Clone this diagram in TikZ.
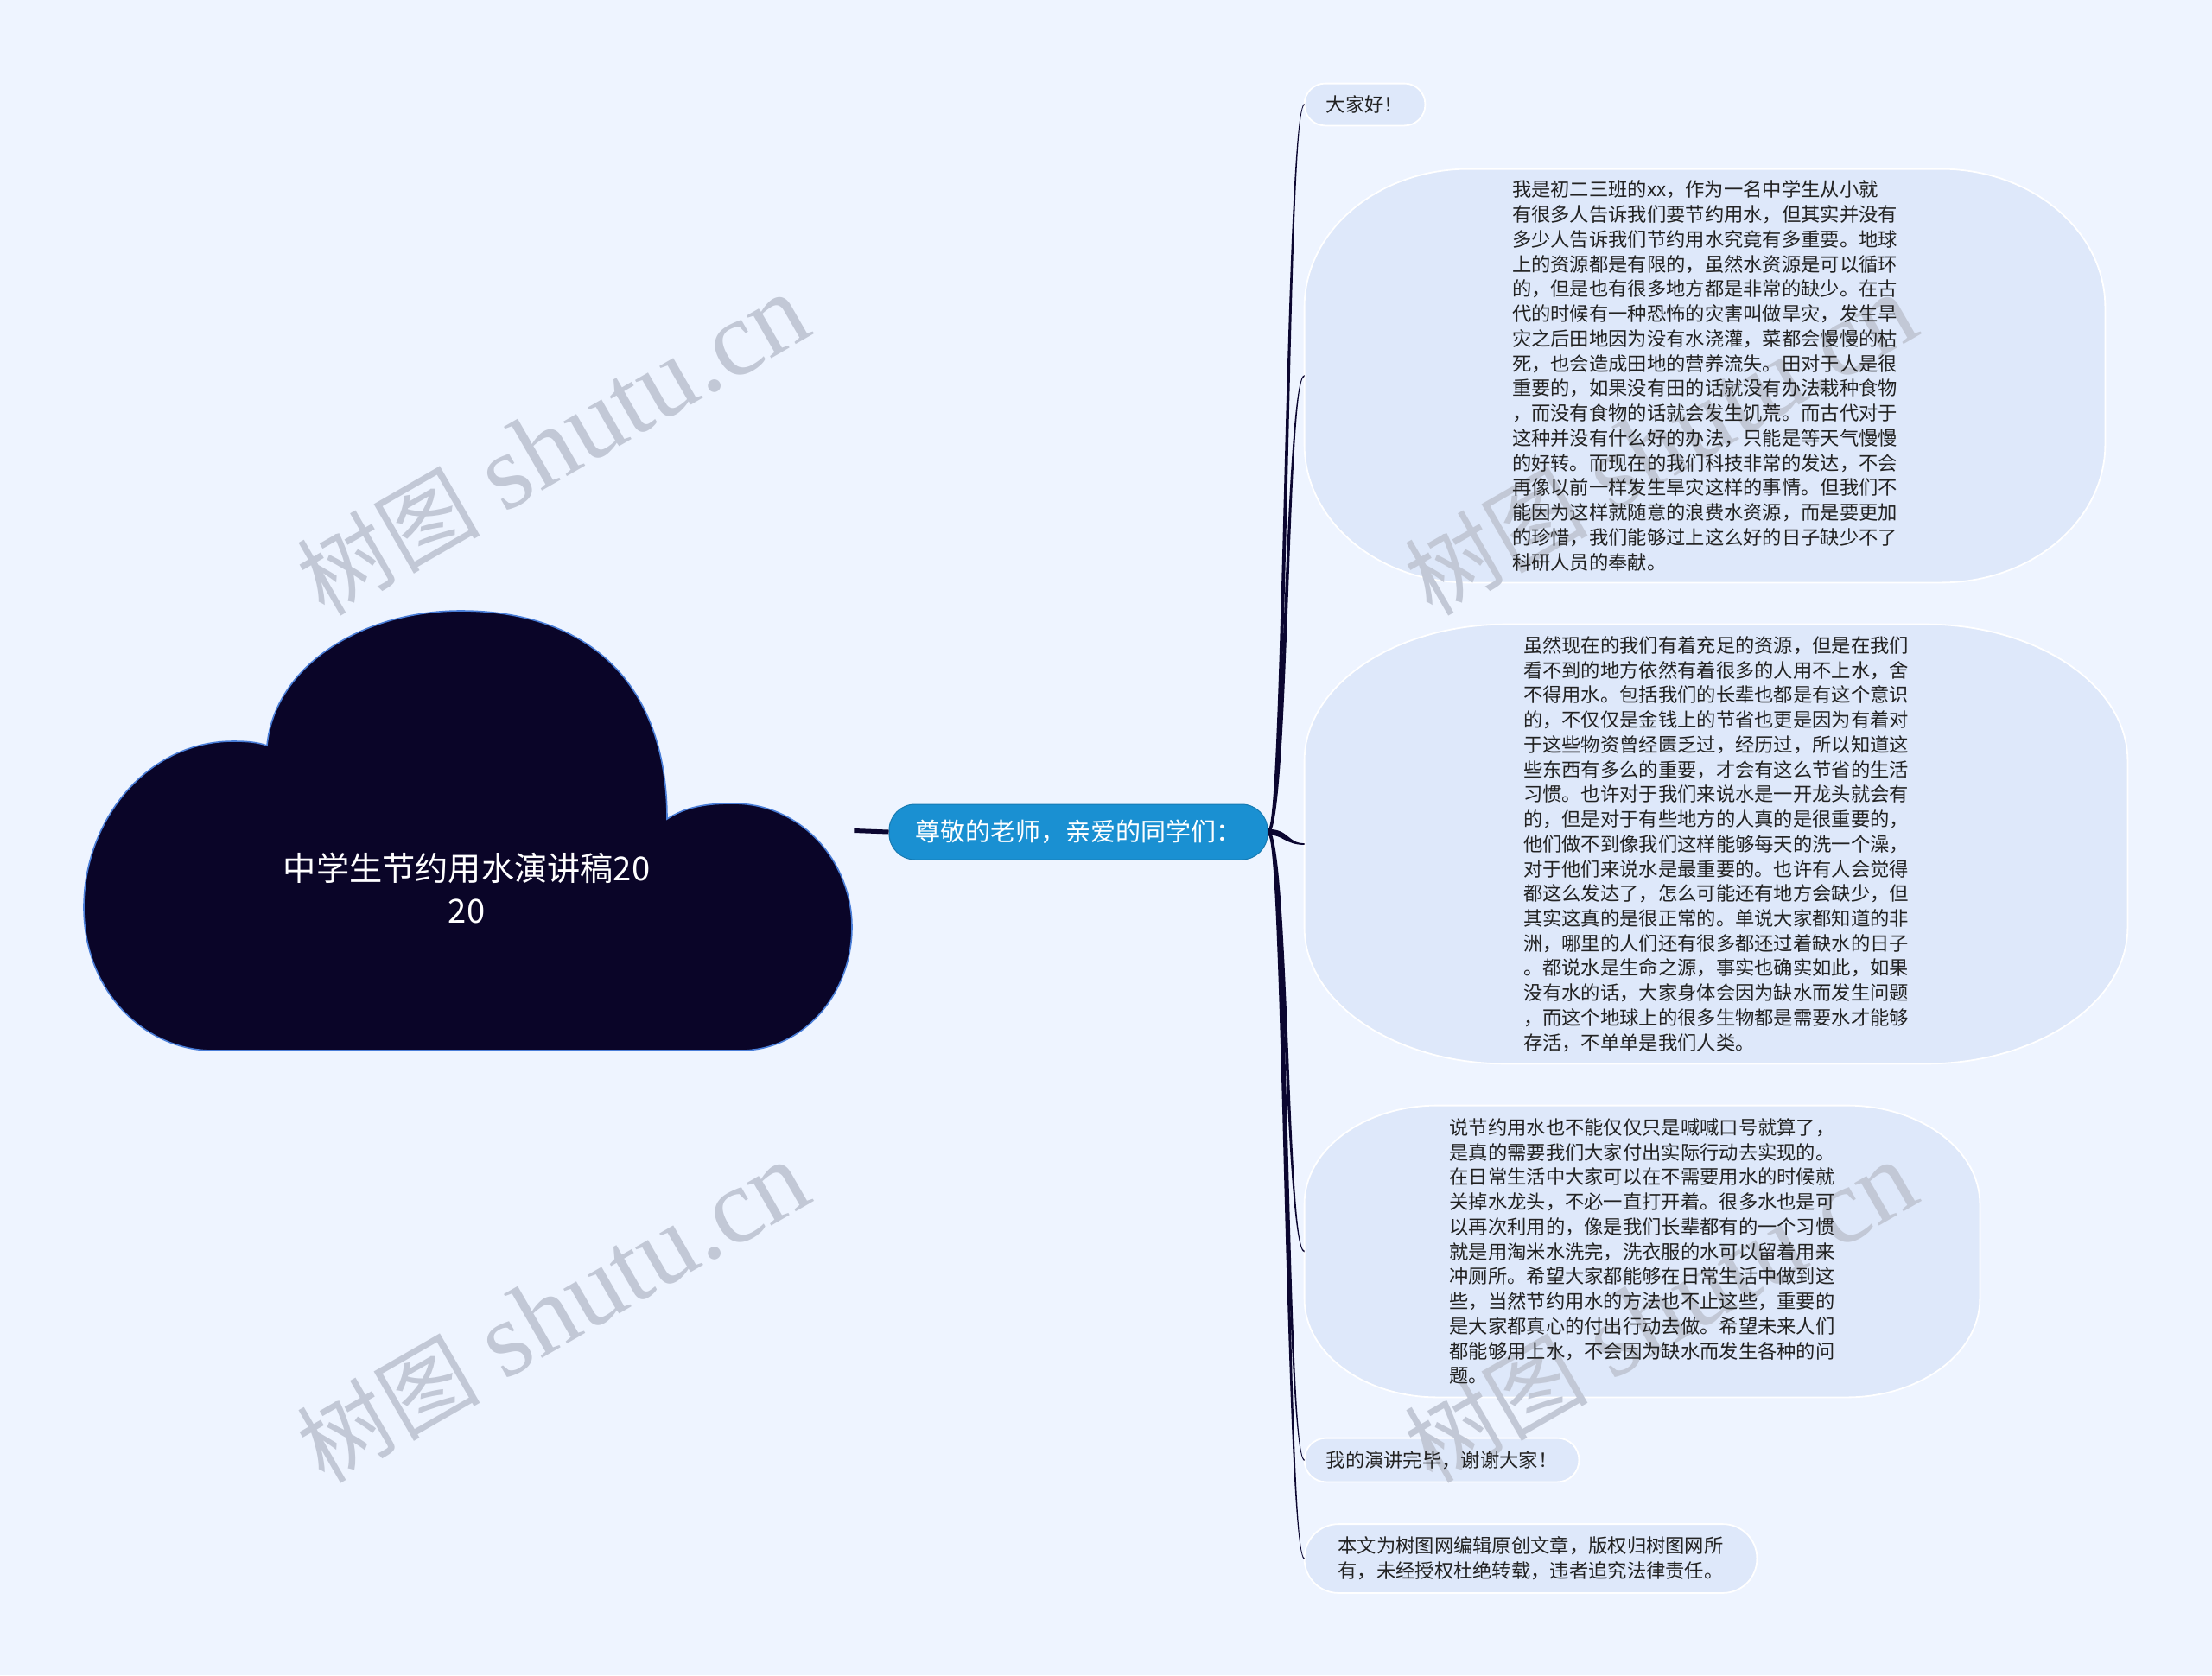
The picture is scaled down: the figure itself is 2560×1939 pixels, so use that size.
\documentclass[tikz,border=0pt]{standalone}
\usepackage{fontspec}
\setmainfont{Noto Sans CJK SC}
\newfontfamily\wmserif{Liberation Serif}
\newfontfamily\wmcjk{Noto Sans CJK SC}
\usetikzlibrary{calc,backgrounds}
\definecolor{bgc}{HTML}{EEF4FF}
\definecolor{bubfill}{HTML}{DEE8FA}
\definecolor{cloudfill}{HTML}{0A0528}
\definecolor{cloudedge}{HTML}{4A7ED8}
\definecolor{subfill}{HTML}{1A90D2}
\definecolor{linecol}{HTML}{0B0630}
\definecolor{txt}{HTML}{222222}
\definecolor{wmc}{HTML}{C2C8D6}

\tikzset{
  bubshape/.style={fill=bubfill, draw=white, line width=0.9pt},
  bubtext/.style={inner sep=0pt, align=left, text=txt,
    font=\fontsize{11.15pt}{14.37pt}\selectfont},
  subnode/.style={fill=subfill, draw=subfill!85!black, line width=0.5pt,
    rounded corners=15pt, inner sep=0pt, minimum width=219pt, minimum height=32pt,
    text=white, font=\fontsize{14.5pt}{17pt}\selectfont},
  titletext/.style={inner sep=0pt, align=center, text=white,
    font=\fontsize{19.1pt}{24.5pt}\selectfont},
  wmark/.style={inner sep=0pt, text=wmc, rotate=30},
  rootline/.style={draw=linecol, line width=2.5pt},
}

% bubble with elliptical corners drawn behind a named node
\newcommand\ebub[3]{%
  \path[bubshape] let \p1=(#1.south west), \p2=(#1.north east) in
    ({\x1+#2},\y2) -- ({\x2-#2},\y2)
    arc[start angle=90,end angle=0,x radius=#2,y radius=#3]
    -- (\x2,{\y1+#3})
    arc[start angle=0,end angle=-90,x radius=#2,y radius=#3]
    -- ({\x1+#2},\y1)
    arc[start angle=270,end angle=180,x radius=#2,y radius=#3]
    -- (\x1,{\y2-#3})
    arc[start angle=180,end angle=90,x radius=#2,y radius=#3]
    -- cycle;}

% tapered S-shaped connector: #1 from, #2 to, #3 = 1 (rising) or -1 (falling)
\newcommand\conn[3]{%
  \fill[linecol] let \p1=(#1), \p2=(#2), \p3=($(#1)!0.5!(#2)$) in
    (\x1,{\y1+1.6pt}) .. controls ({\x3-(#3)*1.8pt},{\y1+1.6pt}) and ({\x3-(#3)*0.6pt},{\y2+0.45pt}) .. (\x2,{\y2+0.45pt})
    -- (\x2,{\y2-0.45pt}) .. controls ({\x3+(#3)*0.6pt},{\y2-0.45pt}) and ({\x3+(#3)*1.8pt},{\y1-1.6pt}) .. (\x1,{\y1-1.6pt}) -- cycle;}

\newcommand\wmtext{{\wmcjk\fontsize{53pt}{56pt}\selectfont 树图}\hspace{14pt}{\wmserif\fontsize{62pt}{64pt}\selectfont shutu.cn}}

\begin{document}
\begin{tikzpicture}[x=0.5pt,y=0.5pt]
\useasboundingbox (0,0) rectangle (2560,-1939);
\begin{scope}[on background layer]
  \fill[bgc] (0,0) rectangle (2560,-1939);
\end{scope}

% ---- central cloud ----
\node[inner sep=0pt, minimum width=445.5pt, minimum height=254.5pt] (root) at (542.5,-961.5) {};
\fill[cloudfill, draw=cloudedge, line width=0.8pt]
  (246,-1216) .. controls (170,-1216) and (97,-1150) .. (97,-1050)
  .. controls (97,-950) and (170,-858) .. (270,-858)
  .. controls (285,-858) and (298,-859) .. (309,-863)
  .. controls (318,-770) and (420,-707) .. (533,-707)
  .. controls (680,-707) and (772,-790) .. (772,-948)
  .. controls (795,-933) and (820,-930) .. (848,-930)
  .. controls (930,-930) and (986,-1000) .. (986,-1073)
  .. controls (986,-1150) and (930,-1216) .. (857,-1216)
  -- cycle;
\node[titletext] (title) at (540,-1028) {中学生节约用水演讲稿20\\20};

% ---- main topic ----
\node[subnode] (sub) at (1248,-963) {尊敬的老师，亲爱的同学们：};
\draw[rootline] (root.east) -- (sub.west);

% ---- children ----
\node[bubtext, minimum width=69.5pt, minimum height=24pt] (hello) at (1579.5,-121) {大家好！};

\node[bubtext, minimum width=463pt, minimum height=239pt] (p1) at (1973,-435) {%
我是初二三班的xx，作为一名中学生从小就\\
有很多人告诉我们要节约用水，但其实并没有\\
多少人告诉我们节约用水究竟有多重要。地球\\
上的资源都是有限的，虽然水资源是可以循环\\
的，但是也有很多地方都是非常的缺少。在古\\
代的时候有一种恐怖的灾害叫做旱灾，发生旱\\
灾之后田地因为没有水浇灌，菜都会慢慢的枯\\
死，也会造成田地的营养流失。田对于人是很\\
重要的，如果没有田的话就没有办法栽种食物\\
，而没有食物的话就会发生饥荒。而古代对于\\
这种并没有什么好的办法，只能是等天气慢慢\\
的好转。而现在的我们科技非常的发达，不会\\
再像以前一样发生旱灾这样的事情。但我们不\\
能因为这样就随意的浪费水资源，而是要更加\\
的珍惜，我们能够过上这么好的日子缺少不了\\
科研人员的奉献。};

\node[bubtext, minimum width=476pt, minimum height=254pt] (p2) at (1986,-977) {%
虽然现在的我们有着充足的资源，但是在我们\\
看不到的地方依然有着很多的人用不上水，舍\\
不得用水。包括我们的长辈也都是有这个意识\\
的，不仅仅是金钱上的节省也更是因为有着对\\
于这些物资曾经匮乏过，经历过，所以知道这\\
些东西有多么的重要，才会有这么节省的生活\\
习惯。也许对于我们来说水是一开龙头就会有\\
的，但是对于有些地方的人真的是很重要的，\\
他们做不到像我们这样能够每天的洗一个澡，\\
对于他们来说水是最重要的。也许有人会觉得\\
都这么发达了，怎么可能还有地方会缺少，但\\
其实这真的是很正常的。单说大家都知道的非\\
洲，哪里的人们还有很多都还过着缺水的日子\\
。都说水是生命之源，事实也确实如此，如果\\
没有水的话，大家身体会因为缺水而发生问题\\
，而这个地球上的很多生物都是需要水才能够\\
存活，不单单是我们人类。};

\node[bubtext, minimum width=390.5pt, minimum height=168.5pt] (p3) at (1900.5,-1448.5) {%
说节约用水也不能仅仅只是喊喊口号就算了，\\
是真的需要我们大家付出实际行动去实现的。\\
在日常生活中大家可以在不需要用水的时候就\\
关掉水龙头，不必一直打开着。很多水也是可\\
以再次利用的，像是我们长辈都有的一个习惯\\
就是用淘米水洗完，洗衣服的水可以留着用来\\
冲厕所。希望大家都能够在日常生活中做到这\\
些，当然节约用水的方法也不止这些，重要的\\
是大家都真心的付出行动去做。希望未来人们\\
都能够用上水，不会因为缺水而发生各种的问\\
题。};

\node[bubtext, minimum width=158.5pt, minimum height=25pt] (thanks) at (1668.5,-1690) {我的演讲完毕，谢谢大家！};

\node[bubtext, minimum width=261.5pt, minimum height=39.5pt] (copy) at (1771.5,-1804) {%
本文为树图网编辑原创文章，版权归树图网所\\
有，未经授权杜绝转载，违者追究法律责任。};

% bubbles and watermarks behind the texts
\begin{scope}[on background layer]
  \ebub{hello}{12pt}{12pt}
  \ebub{p1}{95pt}{80pt}
  \ebub{p2}{117pt}{79pt}
  \ebub{p3}{77pt}{57pt}
  \ebub{thanks}{12.5pt}{12.5pt}
  \ebub{copy}{19.75pt}{19.75pt}
  \node[wmark] (wm1) at (640,-515) {\wmtext};
  \node[wmark] (wm2) at (640,-1519) {\wmtext};
  \node[wmark] (wm3) at (1922,-515) {\wmtext};
  \node[wmark] (wm4) at (1922,-1519) {\wmtext};
\end{scope}

% ---- connectors ----
\conn{sub.east}{hello.west}{1}
\conn{sub.east}{p1.west}{1}
\conn{sub.east}{p2.west}{-1}
\conn{sub.east}{p3.west}{-1}
\conn{sub.east}{thanks.west}{-1}
\conn{sub.east}{copy.west}{-1}
\end{tikzpicture}
\end{document}
